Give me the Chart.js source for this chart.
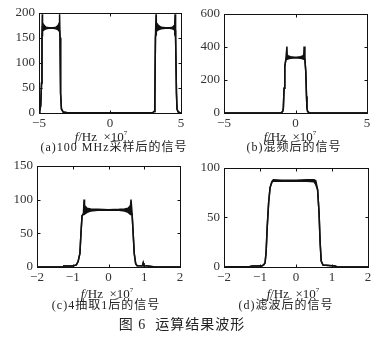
<!DOCTYPE html>
<html>
<head>
<meta charset="utf-8">
<script src="https://cdn.jsdelivr.net/npm/chart.js@4"></script>
<style>
  body { margin: 0; background: #fff; }
  #wrap { position: relative; width: 372px; height: 346px; overflow: hidden; background: #fff; }
  canvas { position: absolute; }
  .lbl { position: absolute; transform: translateX(-50%); white-space: nowrap; color: #222;
         font-family: "Liberation Serif", "Noto Sans CJK SC", serif; font-size: 13px; line-height: 14px; }
  .lbl sup { font-size: 7px; vertical-align: 6px; }
  .cap { font-size: 12px; letter-spacing: 1px; }
  .fig { font-size: 14px; letter-spacing: 1px; line-height: 16px; }
</style>
</head>
<body>
<div id="wrap">
  <canvas id="ca"></canvas>
  <canvas id="cb"></canvas>
  <canvas id="cc"></canvas>
  <canvas id="cd"></canvas>
  <div class="lbl" style="left:101px;top:126px"><i>f</i>/Hz&nbsp;&nbsp;×10<sup>7</sup></div>
  <div class="lbl cap" style="left:114px;top:140px">(a)100 MHz采样后的信号</div>
  <div class="lbl" style="left:290px;top:126px"><i>f</i>/Hz&nbsp;&nbsp;×10<sup>7</sup></div>
  <div class="lbl cap" style="left:294px;top:140px">(b)混频后的信号</div>
  <div class="lbl" style="left:107px;top:283px"><i>f</i>/Hz&nbsp;&nbsp;×10<sup>7</sup></div>
  <div class="lbl cap" style="left:106px;top:298px">(c)4抽取1后的信号</div>
  <div class="lbl" style="left:293px;top:283px"><i>f</i>/Hz&nbsp;&nbsp;×10<sup>7</sup></div>
  <div class="lbl cap" style="left:286px;top:298px">(d)滤波后的信号</div>
  <div class="lbl fig" style="left:182px;top:317px">图 6&nbsp;&nbsp;运算结果波形</div>
</div>
<script>
// (a) 100 MHz 采样后的信号: x, верх и низ огибающей
const aX  = [-5, -4.95, -4.88, -4.82, -4.79, -4.77, -4.75, -4.65, -4.5, -4.3, -4.0, -3.8, -3.65, -3.57, -3.55, -3.52, -3.48, -3.42, -3.3, -3.0, 3.0, 3.1, 3.16, 3.2, 3.24, 3.26, 3.4, 3.6, 3.9, 4.2, 4.4, 4.54, 4.56, 4.58, 4.62, 4.68, 4.72, 4.8, 5];
const aHi = [0, 3, 15, 60, 150, 197, 180, 175, 171, 170, 170, 171, 175, 180, 197, 150, 40, 8, 2, 0.5, 0.5, 3, 30, 150, 197, 180, 175, 171, 170, 170, 171, 175, 180, 197, 150, 40, 8, 2, 0];
const aLo = [0, 3, 15, 60, 150, 165, 163, 166, 168, 169, 169, 168, 166, 163, 165, 150, 40, 8, 2, 0.5, 0.5, 3, 30, 150, 165, 163, 166, 168, 169, 169, 168, 166, 163, 165, 150, 40, 8, 2, 0];

// (b) 混频后的信号
const bX  = [-5, -1.2, -1.0, -0.9, -0.85, -0.8, -0.75, -0.68, -0.6, -0.58, -0.5, -0.35, -0.15, 0, 0.15, 0.35, 0.5, 0.58, 0.6, 0.66, 0.72, 0.77, 0.8, 0.85, 0.95, 1.2, 5];
const bHi = [0, 0, 2, 8, 30, 150, 280, 320, 402, 352, 345, 340, 338, 337, 338, 340, 345, 352, 402, 320, 250, 100, 30, 8, 2, 0, 0];
const bLo = [0, 0, 2, 8, 30, 150, 280, 320, 330, 325, 328, 331, 333, 334, 333, 331, 328, 325, 330, 320, 250, 100, 30, 8, 2, 0, 0];

// (c) 4抽取1后的信号
const cX  = [-2, -1.27, -1.25, -1.0, -0.9, -0.85, -0.8, -0.77, -0.74, -0.7, -0.685, -0.67, -0.6, -0.5, -0.3, 0, 0.3, 0.45, 0.55, 0.615, 0.63, 0.66, 0.69, 0.72, 0.76, 0.8, 0.95, 0.97, 0.99, 1.1, 1.25, 1.3, 2];
const cHi = [0, 0.5, 1.5, 1.5, 3, 8, 20, 50, 76, 80, 100, 91, 87, 86, 85.5, 85, 85.5, 86, 87, 91, 100, 80, 50, 20, 5, 2, 2, 6, 2, 1.5, 0.5, 0, 0];
const cLo = [0, 0.5, 1.5, 1.5, 3, 8, 20, 50, 76, 78, 78, 78, 81, 83, 84, 84, 84, 83, 81, 78, 78, 78, 50, 20, 5, 2, 2, 6, 2, 1.5, 0.5, 0, 0];

// (d) 滤波后的信号
const dX  = [-2, -1.28, -1.2, -0.95, -0.9, -0.86, -0.83, -0.8, -0.76, -0.72, -0.67, -0.63, -0.4, 0, 0.3, 0.5, 0.55, 0.6, 0.64, 0.67, 0.7, 0.75, 1.08, 1.15, 2];
const dHi = [0, 0.5, 1, 1, 2, 4, 15, 40, 65, 80, 86, 88, 87.5, 87.5, 88, 88, 87, 78, 55, 25, 6, 2, 1, 0, 0];
const dLo = [0, 0.5, 1, 1, 2, 4, 15, 40, 65, 80, 85.5, 86.5, 86.5, 86.5, 86.5, 86, 83, 78, 55, 25, 6, 2, 1, 0, 0];

// оси
const aXTicks = [-5, 0, 5],  aYTicks = [0, 50, 100, 150, 200];
const bXTicks = [-5, 0, 5],  bYTicks = [0, 200, 400, 600];
const cXTicks = [-2, -1, 0, 1, 2], cYTicks = [0, 50, 100, 150];
const dXTicks = [-2, -1, 0, 1, 2], dYTicks = [0, 50, 100];

const PAD_L = 38, PAD_T = 7, PAD_R = 8, PAD_B = 20;

// рамка и засечки внутрь, как в matlab
const framePlugin = {
  id: "frame",
  afterDraw(chart) {
    const ctx = chart.ctx;
    const { left, right, top, bottom } = chart.chartArea;
    const L = Math.round(left) + 0.5, R = Math.round(right) + 0.5;
    const T = Math.round(top) + 0.5, B = Math.round(bottom) + 0.5;
    ctx.save();
    ctx.strokeStyle = "#111";
    ctx.lineWidth = 1;
    ctx.strokeRect(L, T, R - L, B - T);
    ctx.beginPath();
    chart.scales.x.ticks.forEach((t) => {
      const px = Math.round(chart.scales.x.getPixelForValue(t.value)) + 0.5;
      ctx.moveTo(px, B); ctx.lineTo(px, B - 3);
      ctx.moveTo(px, T); ctx.lineTo(px, T + 3);
    });
    chart.scales.y.ticks.forEach((t) => {
      const py = Math.round(chart.scales.y.getPixelForValue(t.value)) + 0.5;
      ctx.moveTo(L, py); ctx.lineTo(L + 3, py);
      ctx.moveTo(R, py); ctx.lineTo(R - 3, py);
    });
    ctx.stroke();
    ctx.restore();
  },
};

function makePanel(id, box, xs, hi, lo, xTicks, yTicks) {
  const cv = document.getElementById(id);
  const w = box.r - box.l + PAD_L + PAD_R;
  const h = box.b - box.t + PAD_T + PAD_B;
  cv.width = w;
  cv.height = h;
  cv.style.left = box.l - PAD_L + "px";
  cv.style.top = box.t - PAD_T + "px";

  const tickFont = { family: "'Liberation Serif', serif", size: 13 };
  const fmt = (v) => String(v).replace("-", "\u2212");

  return new Chart(cv.getContext("2d"), {
    type: "line",
    data: {
      datasets: [
        {
          data: xs.map((x, i) => ({ x: x, y: hi[i] })),
          borderColor: "#111",
          borderWidth: 1.5,
          pointRadius: 0,
          tension: 0,
          fill: false,
        },
        {
          data: xs.map((x, i) => ({ x: x, y: lo[i] })),
          borderColor: "#111",
          borderWidth: 1.5,
          backgroundColor: "#111",
          pointRadius: 0,
          tension: 0,
          fill: "-1",
        },
      ],
    },
    plugins: [framePlugin],
    options: {
      responsive: false,
      animation: false,
      layout: { padding: { top: PAD_T, right: PAD_R, left: 0, bottom: 0 } },
      plugins: { legend: { display: false }, tooltip: { enabled: false } },
      scales: {
        x: {
          type: "linear",
          min: xTicks[0],
          max: xTicks[xTicks.length - 1],
          afterBuildTicks: (s) => { s.ticks = xTicks.map((v) => ({ value: v })); },
          afterFit: (s) => { s.height = PAD_B; },
          grid: { display: false, drawTicks: false },
          border: { display: false },
          ticks: { padding: 3, color: "#333", font: tickFont, maxRotation: 0, callback: fmt },
        },
        y: {
          min: yTicks[0],
          max: yTicks[yTicks.length - 1],
          afterBuildTicks: (s) => { s.ticks = yTicks.map((v) => ({ value: v })); },
          afterFit: (s) => { s.width = PAD_L; },
          grid: { display: false, drawTicks: false },
          border: { display: false },
          ticks: { padding: 4, color: "#333", font: tickFont, callback: fmt },
        },
      },
    },
  });
}

makePanel("ca", { l: 39, t: 8, r: 181, b: 113 }, aX, aHi, aLo, aXTicks, aYTicks);
makePanel("cb", { l: 224, t: 9, r: 367, b: 113 }, bX, bHi, bLo, bXTicks, bYTicks);
makePanel("cc", { l: 37, t: 161, r: 180, b: 267 }, cX, cHi, cLo, cXTicks, cYTicks);
makePanel("cd", { l: 224, t: 163, r: 368, b: 267 }, dX, dHi, dLo, dXTicks, dYTicks);
</script>
</body>
</html>
